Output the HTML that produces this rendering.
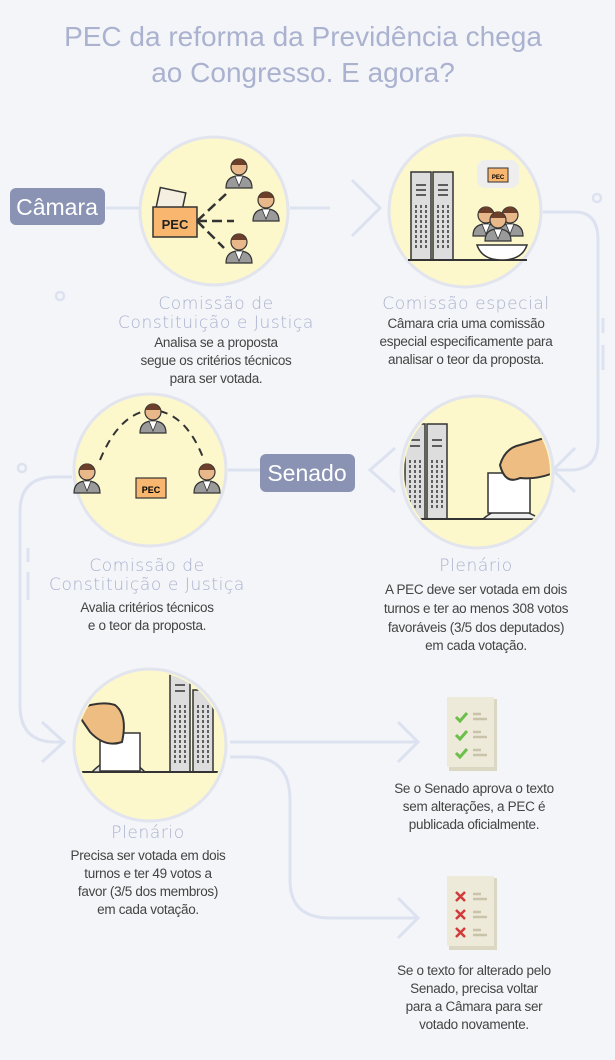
<!DOCTYPE html>
<html><head><meta charset="utf-8"><style>
html,body{margin:0;padding:0;background:#f4f5f8;}
svg{display:block}
.t{font-family:"Liberation Sans",sans-serif;}
.h{fill:#a9b1cf;font-size:17px;letter-spacing:0.6px;text-anchor:middle;font-family:"DejaVu Sans","Liberation Sans",sans-serif;font-weight:200}
.b{fill:#444;font-size:13.5px;text-anchor:middle;font-family:"Liberation Sans",sans-serif;letter-spacing:-0.3px}
.ln{stroke:#dde2f1;stroke-width:3;fill:none}
.circ{fill:#fcf8cc;stroke:#e2e4ee;stroke-width:3}
</style></head><body>
<svg width="615" height="1060" viewBox="0 0 615 1060">
<defs>
<clipPath id="c4"><circle cx="477" cy="472" r="73"/></clipPath>
<clipPath id="c5"><circle cx="150" cy="745" r="73"/></clipPath>
<g id="p1"><path d="M226,188 Q226,176 239,176 Q252,176 252,188 Z" fill="#9a9a9a" stroke="#333" stroke-width="1.2"/><path d="M235,176 L239,186 L243,176Z" fill="#fff" stroke="#333" stroke-width="0.8"/><circle cx="239" cy="167" r="8" fill="#e9b88a" stroke="#333" stroke-width="1.2"/><path d="M231,165 Q239,152 247,165 Z" fill="#6b3f2a"/></g>
</defs>
<rect width="615" height="1060" fill="#f4f5f8"/>
<text x="303" y="46" text-anchor="middle" class="t" font-size="28" fill="#aab2d0">PEC da reforma da Previdência chega</text>
<text x="303" y="82" text-anchor="middle" class="t" font-size="28" fill="#aab2d0">ao Congresso. E agora?</text>

<path class="ln" d="M106,208 H140"/>
<path class="ln" d="M290,208 H330"/>
<path class="ln" d="M352,180 L380,208 L352,236"/>
<path class="ln" d="M543,212 H575 Q598,212 598,240 V440 Q598,470 570,470 H555"/>
<path class="ln" d="M575,448 L553,470 L575,492"/>
<path class="ln" d="M395,448 L370,470 L395,492"/>
<path class="ln" d="M228,470 H260"/>
<path class="ln" d="M72,477 H55 Q20,477 20,512 V705 Q20,742 55,742 H64"/>
<path class="ln" d="M42,722 L64,742 L42,762"/>
<path class="ln" d="M230,742 H418"/>
<path class="ln" d="M398,722 L418,742 L398,762"/>
<path class="ln" d="M230,757 H250 Q290,757 290,800 V880 Q290,918 330,918 H418"/>
<path class="ln" d="M398,898 L418,918 L398,938"/>
<circle cx="60" cy="296" r="4" fill="none" stroke="#dde2f1" stroke-width="2.5"/>
<circle cx="22" cy="468" r="4" fill="none" stroke="#dde2f1" stroke-width="2.5"/>
<circle cx="597" cy="198" r="4" fill="none" stroke="#dde2f1" stroke-width="2.5"/>
<path class="ln" d="M28,548 V562 M28,572 V600"/>
<path class="ln" d="M603,318 V333 M603,345 V370"/>

<rect x="10" y="188" width="95" height="37" rx="6" fill="#8a93b3"/>
<text x="57" y="215" text-anchor="middle" class="t" font-size="23" fill="#fff">Câmara</text>
<rect x="260" y="454" width="95" height="38" rx="6" fill="#8a93b3"/>
<text x="307" y="481" text-anchor="middle" class="t" font-size="23" fill="#fff">Senado</text>

<!-- circle 1 -->
<circle class="circ" cx="214" cy="211" r="74"/>
<rect x="158" y="190" width="26" height="20" fill="#f4efe0" stroke="#333" stroke-width="1.5" transform="rotate(12 171 200)"/>
<rect x="153" y="207" width="44" height="30" fill="#f8b66e" stroke="#333" stroke-width="1.5"/>
<text x="175" y="229" text-anchor="middle" class="t" font-size="13" font-weight="bold" fill="#222">PEC</text>
<path d="M197,221 L226,194 M197,221 L234,221 M197,221 L224,248" stroke="#333" stroke-width="2.5" stroke-dasharray="10,5"/>
<use href="#p1"/>
<use href="#p1" x="27" y="33"/>
<use href="#p1" x="0" y="75"/>

<!-- circle 2 -->
<circle class="circ" cx="465" cy="211" r="76"/>
<rect x="411" y="172" width="20" height="88" fill="#ddd" stroke="#333" stroke-width="1.5"/>
<rect x="433" y="172" width="20" height="88" fill="#ddd" stroke="#333" stroke-width="1.5"/>
<path d="M416,185 h10 M416,190 h10 M416,195 h10 M438,185 h10 M438,190 h10 M438,195 h10" stroke="#333" stroke-width="1.5"/>
<path d="M416,205 V250 M421,205 V250 M426,205 V250 M438,205 V250 M443,205 V250 M448,205 V250" stroke="#333" stroke-width="1.5" stroke-dasharray="3,2"/>
<path d="M408,260 H527" stroke="#333" stroke-width="2"/>
<path d="M477,245 H527 Q522,260 502,260 Q482,260 477,245Z" fill="#fff" stroke="#333" stroke-width="1.5"/>
<rect x="477" y="160" width="42" height="28" rx="8" fill="#eee"/>
<rect x="488" y="168" width="20" height="14" fill="#f8b66e" stroke="#333" stroke-width="1"/>
<text x="498" y="179" text-anchor="middle" class="t" font-size="6" font-weight="bold">PEC</text>
<use href="#p1" x="271" y="48"/><use href="#p1" x="247" y="48"/><use href="#p1" x="259" y="53"/>

<!-- circle 3 -->
<circle class="circ" cx="150" cy="470" r="76"/>
<path d="M100,460 Q120,412 152,410 Q186,412 204,460" stroke="#333" stroke-width="2" fill="none" stroke-dasharray="8,6"/>
<rect x="136" y="478" width="30" height="20" fill="#f8b66e" stroke="#333" stroke-width="1.2"/>
<text x="151" y="493" text-anchor="middle" class="t" font-size="9" font-weight="bold">PEC</text>
<use href="#p1" x="-86" y="245"/><use href="#p1" x="-152" y="305"/><use href="#p1" x="-32" y="305"/>

<!-- circle 4 -->
<circle class="circ" cx="477" cy="472" r="76"/>
<g clip-path="url(#c4)">
<rect x="405" y="424" width="20" height="95" fill="#ddd" stroke="#333" stroke-width="1.5"/>
<rect x="427" y="424" width="20" height="95" fill="#ddd" stroke="#333" stroke-width="1.5"/>
<path d="M410,440 h10 M410,446 h10 M432,440 h10 M432,446 h10" stroke="#333" stroke-width="1.5"/>
<path d="M410,460 V510 M415,460 V510 M420,460 V510 M432,460 V510 M437,460 V510 M442,460 V510" stroke="#333" stroke-width="1.5" stroke-dasharray="3,2"/>
<path d="M400,519 H555" stroke="#333" stroke-width="2"/>
<path d="M483,519 Q507,498 540,519 Z" fill="#eee" stroke="#333" stroke-width="1.5"/>
<rect x="488" y="473" width="42" height="40" fill="#fff" stroke="#333" stroke-width="1.5"/>
<path d="M500,465 Q505,448 520,445 L555,435 L560,470 Q540,480 520,478 Q505,485 500,465Z" fill="#eebd82" stroke="#333" stroke-width="2"/>
</g>

<!-- circle 5 -->
<circle class="circ" cx="150" cy="745" r="76"/>
<g clip-path="url(#c5)">
<rect x="170" y="672" width="20" height="100" fill="#ddd" stroke="#333" stroke-width="1.5"/>
<rect x="193" y="690" width="20" height="82" fill="#ddd" stroke="#333" stroke-width="1.5"/>
<path d="M175,685 h10 M175,691 h10" stroke="#333" stroke-width="1.5"/>
<path d="M175,705 V765 M180,705 V765 M185,705 V765 M198,705 V765 M203,705 V765 M208,705 V765" stroke="#333" stroke-width="1.5" stroke-dasharray="3,2"/>
<path d="M75,772 H230" stroke="#333" stroke-width="2"/>
<path d="M92,772 Q118,745 145,772 Z" fill="#ddd" stroke="#333" stroke-width="1.5"/>
<rect x="100" y="733" width="40" height="38" fill="#fff" stroke="#333" stroke-width="1.5"/>
<path d="M75,710 Q100,700 115,705 Q128,715 122,742 Q105,748 90,732 Z" fill="#eebd82" stroke="#333" stroke-width="2"/>
</g>

<g transform="translate(447,697)">
<rect x="2" y="2" width="48" height="72" fill="#dcd7c3"/><rect x="0" y="0" width="47" height="70" fill="#eeead9"/>
<path d="M9,20 l4,4 l7,-8 M9,38 l4,4 l7,-8 M9,56 l4,4 l7,-8" stroke="#6cbf4b" stroke-width="3" fill="none"/>
<path d="M26,17 h8 M26,22 h14 M26,35 h8 M26,40 h14 M26,53 h8 M26,58 h14" stroke="#c9c3aa" stroke-width="2.5"/>
</g>
<g transform="translate(447,876)">
<rect x="2" y="2" width="48" height="72" fill="#dcd7c3"/><rect x="0" y="0" width="47" height="70" fill="#eeead9"/>
<path d="M9,16 l9,9 M18,16 l-9,9 M9,34 l9,9 M18,34 l-9,9 M9,52 l9,9 M18,52 l-9,9" stroke="#d2393b" stroke-width="2.5"/>
<path d="M26,18 h8 M26,23 h14 M26,36 h8 M26,41 h14 M26,54 h8 M26,59 h14" stroke="#c9c3aa" stroke-width="2.5"/>
</g>

<text x="216" y="309" class="h">Comissão de</text>
<text x="216" y="328" class="h">Constituição e Justiça</text>
<text x="216" y="347" class="b">Analisa se a proposta</text>
<text x="216" y="365" class="b">segue os critérios técnicos</text>
<text x="216" y="383" class="b">para ser votada.</text>

<text x="466" y="309" class="h">Comissão especial</text>
<text x="466" y="328" class="b">Câmara cria uma comissão</text>
<text x="466" y="346" class="b">especial especificamente para</text>
<text x="466" y="364" class="b">analisar o teor da proposta.</text>

<text x="147" y="571" class="h">Comissão de</text>
<text x="147" y="590" class="h">Constituição e Justiça</text>
<text x="147" y="612" class="b">Avalia critérios técnicos</text>
<text x="147" y="630" class="b">e o teor da proposta.</text>

<text x="476" y="571" class="h">Plenário</text>
<text x="476" y="594" class="b">A PEC deve ser votada em dois</text>
<text x="476" y="613" class="b">turnos e ter ao menos 308 votos</text>
<text x="476" y="632" class="b">favoráveis (3/5 dos deputados)</text>
<text x="476" y="650" class="b">em cada votação.</text>

<text x="148" y="838" class="h">Plenário</text>
<text x="148" y="860" class="b">Precisa ser votada em dois</text>
<text x="148" y="878" class="b">turnos e ter 49 votos a</text>
<text x="148" y="896" class="b">favor (3/5 dos membros)</text>
<text x="148" y="914" class="b">em cada votação.</text>

<text x="474" y="793" class="b">Se o Senado aprova o texto</text>
<text x="474" y="811" class="b">sem alterações, a PEC é</text>
<text x="474" y="829" class="b">publicada oficialmente.</text>

<text x="474" y="975" class="b">Se o texto for alterado pelo</text>
<text x="474" y="993" class="b">Senado, precisa voltar</text>
<text x="474" y="1011" class="b">para a Câmara para ser</text>
<text x="474" y="1029" class="b">votado novamente.</text>
</svg>
</body></html>
